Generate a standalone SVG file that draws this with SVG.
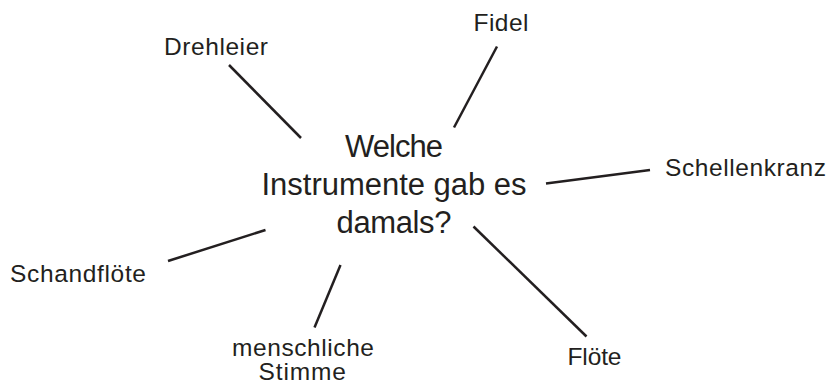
<svg xmlns="http://www.w3.org/2000/svg" width="829" height="389" viewBox="0 0 829 389">
<style>
text{font-family:"Liberation Sans","Noto Sans",sans-serif;fill:#231f20}
.lab{font-size:24.5px}
.ctr{font-size:31px;text-anchor:middle}
.conn line{stroke:#231f20;stroke-width:2.5;stroke-linecap:butt}
</style>
<rect width="829" height="389" fill="#fff"/>
<g id="connectors" class="conn">
<line x1="229" y1="65" x2="301" y2="138"/>
<line x1="497" y1="46.5" x2="454" y2="127.5"/>
<line x1="546" y1="183.5" x2="650" y2="170"/>
<line x1="473.5" y1="226.5" x2="586.5" y2="336.5"/>
<line x1="168" y1="261" x2="265.5" y2="230"/>
<line x1="340.5" y1="265" x2="314.5" y2="327.5"/>
</g>
<g id="center">
<text class="ctr" x="394" y="156.5" textLength="98" lengthAdjust="spacing">Welche</text>
<text class="ctr" x="394" y="195" textLength="265" lengthAdjust="spacing">Instrumente gab es</text>
<text class="ctr" x="394" y="233" textLength="115" lengthAdjust="spacing">damals?</text>
</g>
<g id="drehleier"><text class="lab" x="164" y="55" textLength="104" lengthAdjust="spacing">Drehleier</text></g>
<g id="fidel"><text class="lab" x="473.5" y="30.5" textLength="55" lengthAdjust="spacing">Fidel</text></g>
<g id="schellenkranz"><text class="lab" x="665" y="176" textLength="161" lengthAdjust="spacing">Schellenkranz</text></g>
<g id="schandfloete"><text class="lab" x="10" y="282" textLength="136" lengthAdjust="spacing">Schandflöte</text></g>
<g id="menschliche-stimme">
<text class="lab" x="232" y="355.5" textLength="142" lengthAdjust="spacing">menschliche</text>
<text class="lab" x="258.5" y="380" textLength="87.5" lengthAdjust="spacing">Stimme</text>
</g>
<g id="floete"><text class="lab" x="567.5" y="365" textLength="54" lengthAdjust="spacing">Flöte</text></g>
</svg>
